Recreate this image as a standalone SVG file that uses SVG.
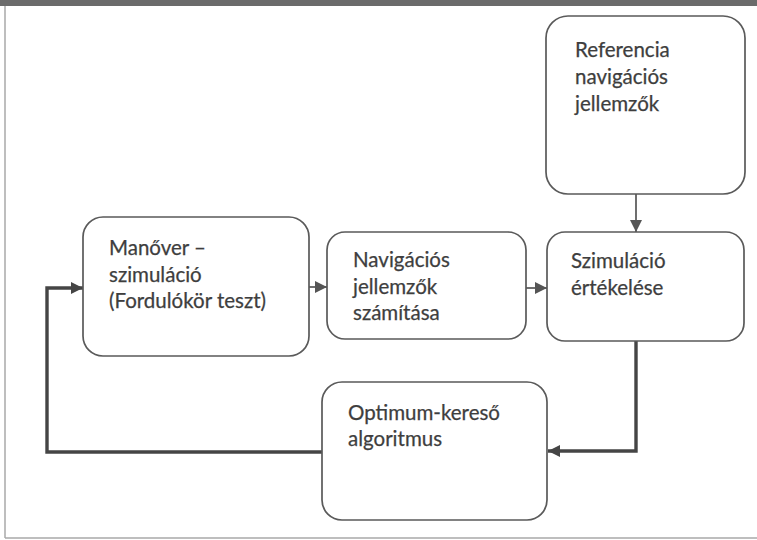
<svg xmlns="http://www.w3.org/2000/svg" width="757" height="540" viewBox="0 0 757 540">
  <style>
    .box { fill: #ffffff; stroke: #5a5a5a; stroke-width: 1.7; }
    .lbl { font-family: Lato, "Open Sans", "Liberation Sans", sans-serif; font-size: 20.5px; fill: #3e3e3e; stroke: #3e3e3e; stroke-width: 0.25; }
    .thin { fill: none; stroke: #555555; stroke-width: 1.7; }
    .thick { fill: none; stroke: #454545; stroke-width: 3.4; }
  </style>
  <defs>
    <marker id="headThin" viewBox="0 0 10 10" refX="10" refY="5" markerWidth="13" markerHeight="12" markerUnits="userSpaceOnUse" orient="auto">
      <path d="M0,0 L10,5 L0,10 z" fill="#555555"/>
    </marker>
    <marker id="headThick" viewBox="0 0 10 10" refX="10" refY="5" markerWidth="14" markerHeight="12" markerUnits="userSpaceOnUse" orient="auto">
      <path d="M0,0 L10,5 L0,10 z" fill="#454545"/>
    </marker>
  </defs>

  <!-- page frame -->
  <rect x="0" y="0" width="757" height="540" fill="#ffffff"/>
  <rect x="0" y="0" width="757" height="6" fill="#6b6b6b"/>
  <line x1="5" y1="6" x2="5" y2="538" stroke="#a8a8a8" stroke-width="1.5"/>
  <line x1="5" y1="538" x2="757" y2="538" stroke="#a8a8a8" stroke-width="1.5"/>

  <!-- connectors -->
  <g id="connectors">
    <line class="thin" x1="309" y1="287" x2="327" y2="287" marker-end="url(#headThin)"/>
    <line class="thin" x1="526" y1="288" x2="547" y2="288" marker-end="url(#headThin)"/>
    <line class="thin" x1="636" y1="194" x2="636" y2="232" marker-end="url(#headThin)"/>
    <polyline class="thick" points="636,341 636,451 548,451" marker-end="url(#headThick)"/>
    <polyline class="thick" points="322,452 47,452 47,288 83,288" marker-end="url(#headThick)"/>
  </g>

  <g id="node-manover">
    <rect class="box" x="83" y="217" width="226" height="139" rx="20"/>
    <text class="lbl" x="109" y="255">Manőver –</text>
    <text class="lbl" x="109" y="282">szimuláció</text>
    <text class="lbl" x="109" y="308">(Fordulókör teszt)</text>
  </g>

  <g id="node-navigacios">
    <rect class="box" x="327" y="232" width="199" height="107" rx="18"/>
    <text class="lbl" x="353" y="267">Navigációs</text>
    <text class="lbl" x="353" y="294">jellemzők</text>
    <text class="lbl" x="353" y="320">számítása</text>
  </g>

  <g id="node-referencia">
    <rect class="box" x="546" y="16" width="199" height="178" rx="22"/>
    <text class="lbl" x="575" y="57">Referencia</text>
    <text class="lbl" x="575" y="84">navigációs</text>
    <text class="lbl" x="575" y="111">jellemzők</text>
  </g>

  <g id="node-szimulacio">
    <rect class="box" x="547" y="232" width="197" height="109" rx="18"/>
    <text class="lbl" x="571" y="268">Szimuláció</text>
    <text class="lbl" x="571" y="295">értékelése</text>
  </g>

  <g id="node-optimum">
    <rect class="box" x="322" y="382" width="225" height="138" rx="20"/>
    <text class="lbl" x="348" y="420">Optimum-kereső</text>
    <text class="lbl" x="348" y="446">algoritmus</text>
  </g>
</svg>
